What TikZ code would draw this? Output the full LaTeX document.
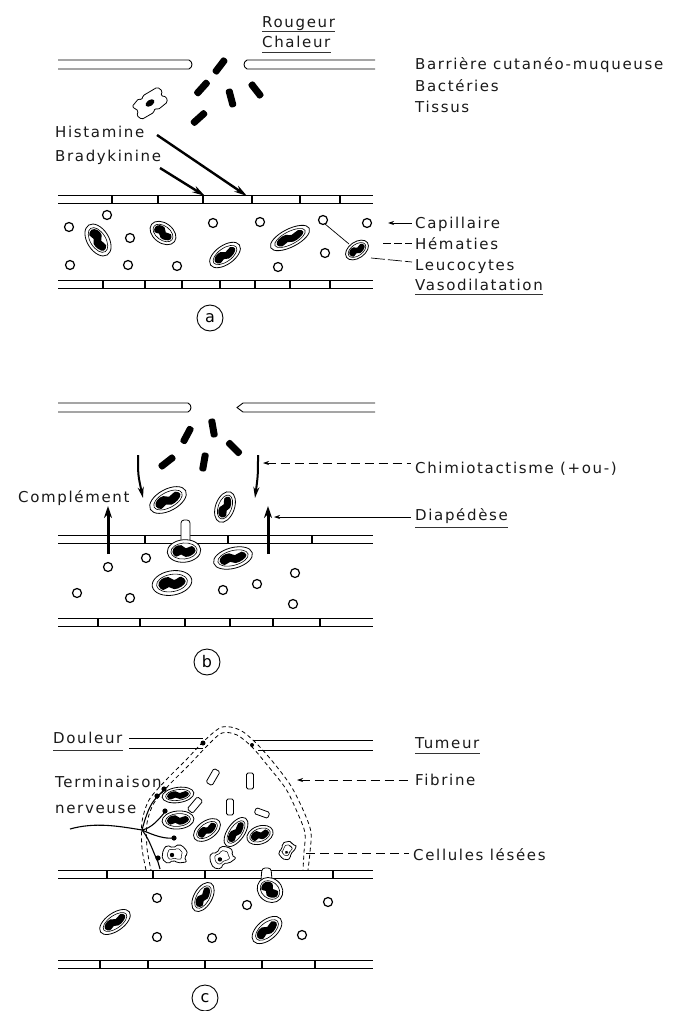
\documentclass[tikz,border=0pt]{standalone}
\usepackage{fontspec}
\newfontfamily\lettering[LetterSpace=11]{DejaVu Sans}
\usetikzlibrary{arrows.meta}

% capillary wall: two parallel lines with cell junctions
\newcommand\capwall[2]{%
  \draw[wall] (58,#1) -- (373,#1);
  \draw[wall] (58,#1+8) -- (373,#1+8);
  \foreach \t in {#2} \draw[junction] (\t,#1) -- (\t,#1+8);
}

\tikzset{
  lab/.style={anchor=base west, inner sep=0pt, text=black!90,
    font=\lettering\fontsize{15}{17}\selectfont},
  circlab/.style={circle, draw, line width=0.9pt, minimum size=26pt, inner sep=0pt,
    text=black, font=\lettering\fontsize{16}{18}\selectfont},
  uline/.style={line width=0.9pt, black!80},
  wall/.style={line width=0.9pt},
  junction/.style={line width=1.4pt},
  barrier/.style={line width=0.9pt},
  cellline/.style={line width=0.8pt},
  hema/.style={line width=1.2pt, fill=white},
  leader/.style={line width=0.7pt},
  fibrin/.style={line width=0.8pt, dash pattern=on 4pt off 3pt},
  nerve/.style={line width=1.1pt},
  tipback/.style={{Stealth[length=6pt,width=4pt]}-},
  mediator/.style={line width=2.4pt, -{Stealth[length=13pt,width=7pt]}},
  chemo/.style={line width=2pt, -{Stealth[length=11pt,width=6pt]}},
  migr/.style={line width=3pt, -{Stealth[length=12pt,width=8pt]}},
  pics/leuco/.style={code={
    \draw[cellline, fill=white] (0,0) ellipse [x radius=16, y radius=9];
    \draw[line width=0.6pt] (0,0) ellipse [x radius=12.5, y radius=6.4];
    \fill plot[smooth cycle, tension=0.7] coordinates
      {(-11,0)(-8,4)(-3,2.6)(1,4.8)(7,3.8)(11,0.5)(8,-3.4)(2,-2)(-2,-4.8)(-8,-4)};
  }},
  pics/rod/.style={code={
    \fill[rounded corners=2.5pt] (-9.5,-3.5) rectangle (9.5,3.5);
  }},
  pics/mastcell/.style={code={
    \draw[cellline, fill=white, rounded corners=1.5pt] (-17,-7) -- (-7,-10) -- (-5,-7) -- (-2,-10)
      -- (15,-9) -- (17,-3) -- (13,0) -- (17,4) -- (15,9) -- (3,10) -- (1,7) -- (-2,10)
      -- (-16,9) -- (-18,3) -- (-14,0) -- cycle;
    \fill (0,0) ellipse [x radius=5, y radius=3];
  }},
  pics/lesee/.style={code={
    \draw[cellline, fill=white, rounded corners=2pt] (-12,-4) -- (-8,-9) -- (-2,-6) -- (4,-10)
      -- (10,-6) -- (13,0) -- (9,3) -- (12,8) -- (3,9) -- (-2,6) -- (-7,10) -- (-13,5) -- cycle;
    \draw[line width=0.5pt, rounded corners=1.5pt, scale=0.6] (-12,-4) -- (-8,-9) -- (-2,-6) -- (4,-10)
      -- (10,-6) -- (13,0) -- (9,3) -- (12,8) -- (3,9) -- (-2,6) -- (-7,10) -- (-13,5) -- cycle;
    \fill (-3,1) circle [radius=2.2];
  }},
  pics/plaq/.style={code={
    \draw[cellline, rounded corners=1.5pt] (-8,-3.5) rectangle (8,3.5);
  }},
}

\begin{document}
\begin{tikzpicture}[x=1pt,y=-1pt]
\useasboundingbox (0,0) rectangle (686,1011);

%% ---------------- (a) ----------------
% skin barrier with a breach
\draw[barrier] (58,60) -- (189,60) .. controls (193,62) and (193,67) .. (189,69) -- (58,69);
\draw[barrier] (375,60) -- (247,60) .. controls (243,62) and (243,67) .. (247,69) -- (375,69);
% bacteria entering
\pic[rotate=53]  at (220,66)  {rod};
\pic[rotate=48]  at (202,88)  {rod};
\pic[rotate=105] at (231,98)  {rod};
\pic[rotate=-52] at (256,90)  {rod};
\pic[rotate=42]  at (199,118) {rod};
% tissue (mast) cell
\pic[rotate=34] at (150,103) {mastcell};

\node[lab] (rougeur) at (262,28) {Rougeur};
\node[lab] (chaleur) at (262,48) {Chaleur};
\draw[uline] (262,31) -- (rougeur.base east |- 0,31);
\draw[uline] (262,52) -- (chaleur.base east |- 0,52);
\node[lab] (barriere) at (415,70) {Barrière cutanéo-muqueuse};
\node[lab] (bacteries) at (415,92) {Bactéries};
\node[lab] (tissus) at (415,113) {Tissus};
\node[lab] (histamine) at (55,138) {Histamine};
\node[lab] (bradykinine) at (55,162) {Bradykinine};

% capillary
\capwall{195}{112,158,203,252,300,340}
\capwall{280}{103,145,182,220,255,290,330}

\coordinate (histS) at (157,135);
\coordinate (histT) at (247,196);
\coordinate (bradS) at (160,168);
\coordinate (bradT) at (205,196);
\draw[mediator] (histS) -- (histT);
\draw[mediator] (bradS) -- (bradT);

\foreach \p in {(69,227),(107,215),(130,238),(70,265),(128,265),(177,266),(213,223),
                (260,222),(278,267),(325,253),(367,223),(323,220)}
  \draw[hema] \p circle [radius=4.5];
\pic[rotate=-58, xscale=1.1, yscale=1.2] at (98,240) {leuco};
\pic[rotate=-37, xscale=0.9, yscale=1.1] at (163,233) {leuco};
\pic[rotate=35, xscale=1.1, yscale=1.05] at (225,255) {leuco};
\pic[rotate=27, xscale=1.35, yscale=1.0] at (290,238) {leuco};
\pic[rotate=35, xscale=0.8, yscale=0.9] at (357,250) {leuco};
\coordinate (hemaA) at (325,224);
\coordinate (leucoA) at (349,244);
\draw[leader] (hemaA) -- (leucoA);

\node[lab] (capillaire) at (415,228) {Capillaire};
\node[lab] (hematies) at (415,249) {Hématies};
\node[lab] (leucocytes) at (415,270) {Leucocytes};
\node[lab] (vaso) at (415,290) {Vasodilatation};
\draw[uline] (415,294) -- (vaso.base east |- 0,294);
\coordinate (capT) at (388,223);
\coordinate (hemT) at (383,243);
\coordinate (leuT) at (371,258);
\draw[leader, tipback] (capT) -- ([xshift=-3pt,yshift=5pt]capillaire.base west);
\draw[leader, dash pattern=on 8pt off 3pt] (hemT) -- ([xshift=-3pt,yshift=6pt]hematies.base west);
\draw[leader, dash pattern=on 14pt off 3pt] (leuT) -- ([xshift=-3pt,yshift=8pt]leucocytes.base west);

\node[circlab] (la) at (210,318) {a};

%% ---------------- (b) ----------------
\draw[barrier] (58,403) -- (188,403) .. controls (192,405) and (192,410) .. (188,412) -- (58,412);
\draw[barrier] (375,403) -- (243,403) -- (237,407.5) -- (243,412) -- (375,412);
\pic[rotate=62]  at (187,435) {rod};
\pic[rotate=100] at (213,428) {rod};
\pic[rotate=-45] at (234,448) {rod};
\pic[rotate=38]  at (167,462) {rod};
\pic[rotate=80]  at (204,462) {rod};

\coordinate (chemoLS) at (138,455);
\coordinate (chemoLT) at (143,498);
\coordinate (chemoRS) at (258,455);
\coordinate (chemoRT) at (255,498);
\draw[chemo] (chemoLS) .. controls (138,475) .. (chemoLT);
\draw[chemo] (chemoRS) .. controls (258,475) .. (chemoRT);

\capwall{535}{145,228,312}
\capwall{618}{98,140,185,230,273,320}

\coordinate (migLS) at (108,554);
\coordinate (migLT) at (108,506);
\coordinate (migRS) at (268,554);
\coordinate (migRT) at (268,506);
\draw[migr] (migLS) -- (migLT);
\draw[migr] (migRS) -- (migRT);

\pic[rotate=28, xscale=1.25, yscale=1.2] at (168,500) {leuco};
\pic[rotate=70, xscale=1.0, yscale=1.05] at (225,507) {leuco};
\draw[cellline, fill=white, rounded corners=3pt] (181,541) -- (181,520) -- (190,520) -- (190,541);
\pic[rotate=5, xscale=1.05, yscale=1.25] at (184,551) {leuco};
\pic[rotate=15, xscale=1.25, yscale=1.15] at (233,558) {leuco};
\pic[rotate=10, xscale=1.25, yscale=1.35] at (172,583) {leuco};
\foreach \p in {(108,567),(146,558),(77,593),(130,598),(223,590),(257,584),(295,573),(293,604)}
  \draw[hema] \p circle [radius=4.5];

\node[lab] (complement) at (18,502) {Complément};
\node[lab] (chimio) at (415,473) {Chimiotactisme (+ou-)};
\node[lab] (diapedese) at (415,520) {Diapédèse};
\draw[uline] (415,527) -- (diapedese.base east |- 0,527);
\coordinate (chimioT) at (263,463);
\coordinate (diapT) at (274,517);
\draw[leader, tipback, dash pattern=on 9pt off 5pt] (chimioT) -- ([xshift=-4pt,yshift=10pt]chimio.base west);
\draw[leader, tipback] (diapT) -- ([xshift=-4pt,yshift=3pt]diapedese.base west);

\node[circlab] (lb) at (207,662) {b};

%% ---------------- (c) ----------------
\draw[barrier] (129,738) -- (203,738);
\draw[barrier] (129,748) -- (203,748);
\draw[barrier] (253,740) -- (373,740);
\draw[barrier] (258,750) -- (373,750);
\fill (203,743) circle [radius=2.5];
\fill (252,745) circle [radius=2];

\capwall{870}{107,153,205,333}
\capwall{960}{100,148,205,262,315}

% fibrin dome
\draw[fibrin] plot[smooth] coordinates {(146,870)(142,848)(142,822)(149,800)(166,780)(186,760)
  (204,741)(222,727)(240,730)(256,743)(273,762)(291,786)(304,812)(311,832)(310,852)(308,870)};
\draw[fibrin, dash phase=3pt] plot[smooth] coordinates {(151,870)(147,848)(147,823)(154,803)(170,784)
  (190,764)(207,746)(222,733)(237,735)(252,747)(268,766)(286,789)(298,814)(305,833)(304,852)(303,870)};

% small fibrin clots / platelets
\pic[rotate=60]  at (213,777) {plaq};
\pic[rotate=90]  at (250,781) {plaq};
\pic[rotate=50]  at (195,805) {plaq};
\pic[rotate=90]  at (230,807) {plaq};
\pic[rotate=-20, scale=0.9] at (262,813) {plaq};

% cells in the swelling
\pic[rotate=8, xscale=1.0, yscale=0.85] at (178,795) {leuco};
\pic[rotate=5, xscale=1.0, yscale=1.0] at (178,820) {leuco};
\pic[rotate=35, xscale=0.95, yscale=1.0] at (207,830) {leuco};
\pic[rotate=55, xscale=1.05, yscale=0.95] at (236,832) {leuco};
\pic[rotate=20, xscale=0.85, yscale=1.0] at (260,835) {leuco};
\pic at (175,854) {lesee};
\pic[rotate=30] at (222,857) {lesee};
\pic[rotate=60, scale=0.75] at (287,850) {lesee};

% nerve ending
\draw[nerve] (70,829) .. controls (95,822) and (118,826) .. (142,830);
\draw[nerve] (142,830) .. controls (146,815) and (150,804) .. (157,797) -- (165,789);
\draw[nerve] (142,830) .. controls (152,828) and (159,819) .. (165,812);
\draw[nerve] (142,830) .. controls (155,836) and (165,839) .. (174,838);
\draw[nerve] (142,830) .. controls (150,840) and (153,852) .. (158,862) -- (160,869);
\foreach \p in {(157,796),(165,811),(174,838),(158,858),(164,789)}
  \fill \p circle [radius=2.6];

% cells below the wall
\pic[rotate=60, xscale=1.0, yscale=1.0] at (203,897) {leuco};
\draw[cellline, fill=white, rounded corners=3pt] (261,880) -- (262,868) -- (271,868) -- (272,880);
\pic[rotate=-40, xscale=0.85, yscale=1.3] at (270,890) {leuco};
\pic[rotate=35, xscale=1.1, yscale=1.0] at (115,922) {leuco};
\pic[rotate=40, xscale=1.1, yscale=1.1] at (267,930) {leuco};
\foreach \p in {(157,898),(247,905),(328,902),(157,937),(212,938),(302,935)}
  \draw[hema] \p circle [radius=4.5];

\node[lab] (douleur) at (53,743) {Douleur};
\draw[uline] (53,750) -- (douleur.base east |- 0,750);
\node[lab] (tumeur) at (415,748) {Tumeur};
\draw[uline] (415,753) -- (tumeur.base east |- 0,753);
\node[lab] (terminaison) at (55,787) {Terminaison};
\node[lab] (nerveuse) at (55,813) {nerveuse};
\node[lab] (fibrine) at (415,785) {Fibrine};
\node[lab] (cellules) at (413,860) {Cellules lésées};
\coordinate (fibT) at (297,780);
\coordinate (celT) at (306,853);
\draw[leader, tipback, dash pattern=on 9pt off 5pt] (fibT) -- ([xshift=-4pt,yshift=5pt]fibrine.base west);
\draw[leader, dash pattern=on 9pt off 5pt] (celT) -- ([xshift=-4pt,yshift=7pt]cellules.base west);

\node[circlab] (lc) at (205,998) {c};
\end{tikzpicture}
\end{document}
